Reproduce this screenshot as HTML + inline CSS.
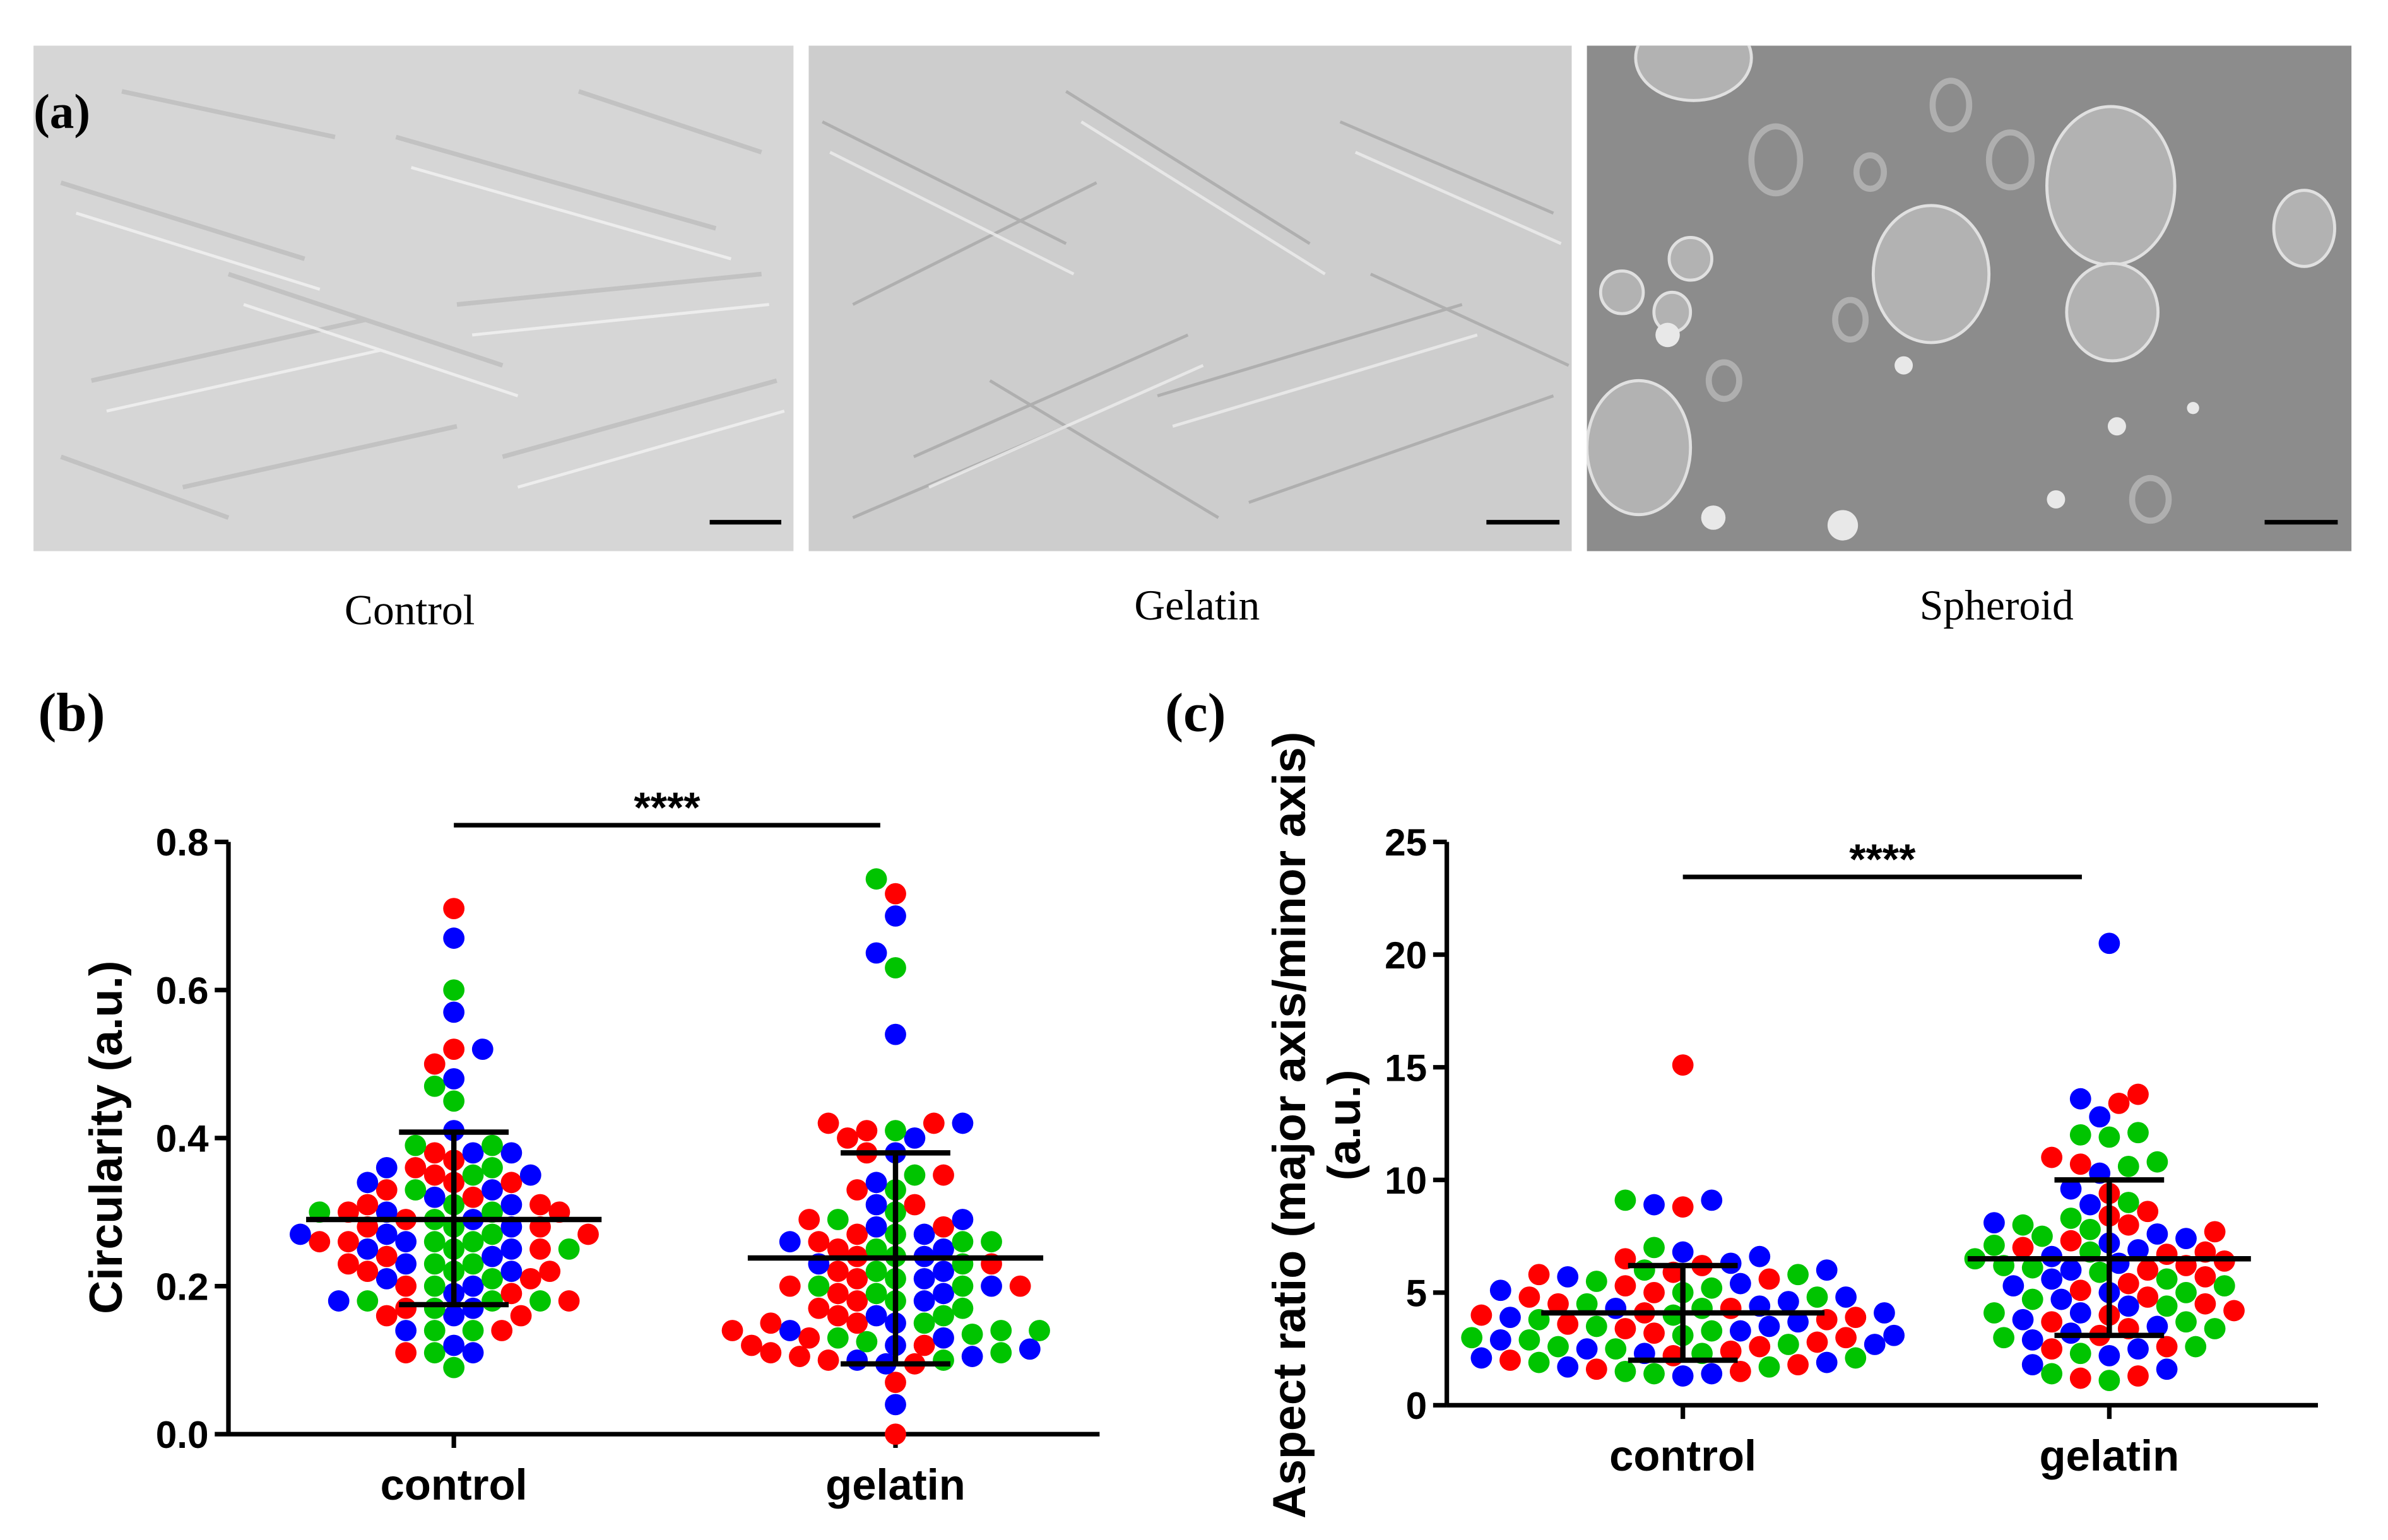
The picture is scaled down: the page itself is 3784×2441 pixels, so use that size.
<!DOCTYPE html>
<html><head><meta charset="utf-8"><style>
html,body{margin:0;padding:0;background:#fff;}
svg{display:block;}
.serif{font-family:"Liberation Serif",serif;}
.sans{font-family:"Liberation Sans",sans-serif;font-weight:bold;}
</style></head><body>
<svg id="fig" width="3784" height="2441" viewBox="0 0 1568 1011.5" xmlns="http://www.w3.org/2000/svg">
<defs><clipPath id="spClip"><rect x="1042" y="30" width="502" height="332"/></clipPath></defs>
<rect width="1568" height="1011.5" fill="#fff"/>
<g>
  <rect x="22" y="30" width="499" height="332" fill="#d6d6d6"/>
  <g stroke="#bdbdbd" stroke-width="3" fill="none" opacity="0.8">
    <path d="M40 120 L200 170 M60 250 L240 210 M120 320 L300 280 M260 90 L470 150 M300 200 L500 180 M330 300 L510 250 M80 60 L220 90 M380 60 L500 100 M150 180 L330 240 M40 300 L150 340"/>
  </g>
  <g stroke="#f2f2f2" stroke-width="2" fill="none" opacity="0.8">
    <path d="M50 140 L210 190 M70 270 L250 230 M270 110 L480 170 M310 220 L505 200 M340 320 L515 270 M160 200 L340 260"/>
  </g>
  <rect x="531" y="30" width="501" height="332" fill="#cdcdcd"/>
  <g stroke="#a8a8a8" stroke-width="2" fill="none" opacity="0.8">
    <path d="M540 80 L700 160 M560 200 L720 120 M600 300 L780 220 M700 60 L860 160 M760 260 L960 200 M820 330 L1020 260 M880 80 L1020 140 M650 250 L800 340 M900 180 L1030 240 M560 340 L700 280"/>
  </g>
  <g stroke="#ededed" stroke-width="2" fill="none" opacity="0.8">
    <path d="M545 100 L705 180 M610 320 L790 240 M710 80 L870 180 M770 280 L970 220 M890 100 L1025 160"/>
  </g>
  <rect x="1042" y="30" width="502" height="332" fill="#8c8c8c"/>
  <g clip-path="url(#spClip)">
  <g fill="#b2b2b2" stroke="#e0e0e0" stroke-width="2">
    <ellipse cx="1112" cy="38" rx="38" ry="28"/>
    <ellipse cx="1268" cy="180" rx="38" ry="45"/>
    <ellipse cx="1386" cy="122" rx="42" ry="52"/>
    <ellipse cx="1387" cy="205" rx="30" ry="32"/>
    <ellipse cx="1513" cy="150" rx="20" ry="25"/>
    <ellipse cx="1076" cy="294" rx="34" ry="44"/>
    <ellipse cx="1065" cy="192" rx="14" ry="14"/>
    <ellipse cx="1098" cy="205" rx="12" ry="13"/>
    <ellipse cx="1110" cy="170" rx="14" ry="14"/>
  </g>
  <g fill="none" stroke="#b8b8b8" stroke-width="4" opacity="0.8">
    <ellipse cx="1281" cy="69" rx="12" ry="16"/><ellipse cx="1166" cy="105" rx="16" ry="22"/>
    <ellipse cx="1228" cy="113" rx="9" ry="11"/><ellipse cx="1320" cy="105" rx="14" ry="18"/>
    <ellipse cx="1215" cy="210" rx="10" ry="13"/><ellipse cx="1132" cy="250" rx="10" ry="12"/>
    <ellipse cx="1412" cy="328" rx="12" ry="14"/>
  </g>
  <g fill="#e8e8e8"><circle cx="1250" cy="240" r="6"/><circle cx="1390" cy="280" r="6"/><circle cx="1440" cy="268" r="4"/><circle cx="1350" cy="328" r="6"/><circle cx="1210" cy="345" r="10"/><circle cx="1125" cy="340" r="8"/><circle cx="1095" cy="220" r="8"/></g>
  </g>
  <g stroke="#000" stroke-width="3">
    <line x1="466" y1="343" x2="513" y2="343"/>
    <line x1="976" y1="343" x2="1024" y2="343"/>
    <line x1="1487" y1="343" x2="1535" y2="343"/>
  </g>
  <text class="serif" x="22" y="84" font-size="32" font-weight="bold">(a)</text>
  <text class="serif" x="269" y="410" font-size="28" text-anchor="middle">Control</text>
  <text class="serif" x="786" y="407" font-size="28" text-anchor="middle">Gelatin</text>
  <text class="serif" x="1311" y="407" font-size="28" text-anchor="middle">Spheroid</text>
</g>
<text class="serif" x="25" y="480" font-size="36" font-weight="bold">(b)</text>
<text class="serif" x="765" y="480" font-size="36" font-weight="bold">(c)</text>
<g id="chartB"></g>
<g id="chartC"></g>
</svg>
<script>
const categories = ["control", "gelatin"];
const circTicks = ["0.0","0.2","0.4","0.6","0.8"];
const circTickValues = [0, 0.2, 0.4, 0.6, 0.8];
const circControlRed = [0.71,0.52,0.50,0.38,0.37,0.36,0.35,0.34,0.34,0.33,0.32,0.31,0.30,0.30,0.29,0.28,0.27,0.26,0.26,0.25,0.24,0.23,0.22,0.21,0.20,0.19,0.18,0.17,0.16,0.16,0.11,0.14,0.31,0.28,0.22];
const circControlBlue = [0.67,0.57,0.52,0.48,0.41,0.38,0.38,0.36,0.35,0.33,0.32,0.31,0.30,0.29,0.28,0.27,0.26,0.25,0.25,0.24,0.23,0.22,0.21,0.20,0.19,0.18,0.17,0.16,0.14,0.12,0.11,0.34,0.27];
const circControlGreen = [0.60,0.47,0.45,0.39,0.39,0.36,0.35,0.33,0.31,0.30,0.29,0.28,0.27,0.26,0.26,0.25,0.23,0.23,0.22,0.21,0.20,0.18,0.18,0.18,0.17,0.14,0.14,0.11,0.09,0.30,0.25];
const circGelatinRed = [0.73,0.42,0.42,0.41,0.40,0.38,0.35,0.33,0.31,0.29,0.28,0.27,0.26,0.25,0.24,0.22,0.21,0.20,0.20,0.19,0.17,0.16,0.15,0.15,0.14,0.13,0.12,0.11,0.12,0.105,0.10,0.095,0.07,0.00,0.18,0.23];
const circGelatinBlue = [0.70,0.65,0.54,0.42,0.40,0.38,0.34,0.31,0.29,0.28,0.27,0.25,0.24,0.23,0.22,0.21,0.20,0.19,0.18,0.16,0.15,0.14,0.13,0.12,0.115,0.105,0.10,0.095,0.04,0.26];
const circGelatinGreen = [0.75,0.63,0.41,0.35,0.33,0.30,0.29,0.27,0.26,0.25,0.24,0.23,0.22,0.21,0.20,0.20,0.19,0.18,0.17,0.16,0.15,0.14,0.14,0.13,0.125,0.11,0.135,0.10,0.26];
const circMean = [0.29, 0.238];
const circSdLow = [0.175, 0.095];
const circSdHigh = [0.408, 0.38];
const arTicks = ["0","5","10","15","20","25"];
const arTickValues = [0,5,10,15,20,25];
const arControlRed = [15.1,8.8,6.5,6.2,5.8,5.6,5.3,5.0,4.8,4.5,4.3,4.1,4.0,3.8,3.6,3.4,3.2,3.0,2.8,2.6,2.4,2.2,2.0,1.8,1.6,1.5,5.9,3.9];
const arControlBlue = [9.1,8.9,6.8,6.6,6.3,6.0,5.7,5.4,5.1,4.8,4.6,4.3,4.1,3.9,3.7,3.5,3.3,3.1,2.9,2.7,2.5,2.3,2.1,1.9,1.7,1.4,1.3,4.4];
const arControlGreen = [9.1,7.0,6.0,5.8,5.5,5.2,5.0,4.8,4.5,4.3,4.0,3.8,3.5,3.3,3.1,2.9,2.7,2.5,2.3,2.1,1.9,1.7,1.5,1.4,2.6,3.0];
const arGelatinRed = [13.8,13.4,11.0,10.7,9.4,8.4,8.0,7.7,7.3,7.0,6.7,6.4,6.2,6.0,5.7,5.4,5.1,4.8,4.5,4.2,4.0,3.7,3.4,3.1,2.6,2.5,1.3,1.2,6.8,8.6];
const arGelatinBlue = [20.5,13.6,12.8,10.3,9.6,8.9,8.1,7.6,7.2,6.9,6.6,6.3,6.0,5.6,5.3,5.0,4.7,4.4,4.1,3.8,3.5,3.2,2.9,2.5,2.2,1.8,1.6,7.4];
const arGelatinGreen = [12.1,12.0,11.9,10.8,10.6,9.0,8.3,8.0,7.8,7.5,7.1,6.8,6.5,6.2,5.9,5.6,5.3,5.0,4.7,4.4,4.1,3.7,3.4,3.0,2.6,2.3,1.4,1.1,6.1];
const arMean = [4.1, 6.5];
const arSdLow = [2.0, 3.1];
const arSdHigh = [6.2, 10.0];

const NS = "http://www.w3.org/2000/svg";
const COLORS = {red:"#ff0000", blue:"#0000ff", green:"#00c400"};
function mk(parent, tag, attrs) {
  const e = document.createElementNS(NS, tag);
  for (const k in attrs) e.setAttribute(k, attrs[k]);
  parent.appendChild(e);
  return e;
}
function swarm(points, cx, yFn, r) {
  const placed = [];
  const sorted = points.slice().sort((a,b)=>a.v-b.v);
  const step = r * 0.9;
  for (const p of sorted) {
    const y = yFn(p.v);
    let best = cx;
    for (let k = 0; k < 200; k++) {
      const off = (k % 2 === 0 ? 1 : -1) * Math.ceil(k/2) * step;
      const x = cx + off;
      let ok = true;
      for (const q of placed) {
        const dx = q.x - x, dy = q.y - y;
        if (dx*dx + dy*dy < (2*r)*(2*r)*0.92) { ok = false; break; }
      }
      if (ok) { best = x; break; }
    }
    placed.push({x: best, y: y, c: p.c});
  }
  return placed;
}
function interleave(red, blue, green) {
  const out = [];
  const n = Math.max(red.length, blue.length, green.length);
  for (let i = 0; i < n; i++) {
    if (i < blue.length) out.push({v: blue[i], c: "blue"});
    if (i < red.length) out.push({v: red[i], c: "red"});
    if (i < green.length) out.push({v: green[i], c: "green"});
  }
  return out;
}
function drawChart(g, cfg) {
  const yS = v => cfg.y0 - (v - cfg.vmin) / (cfg.vmax - cfg.vmin) * (cfg.y0 - cfg.y1);
  const ya = mk(g, "line", {x1: cfg.ax, y1: cfg.y1, x2: cfg.ax, y2: cfg.y0, stroke: "#000", "stroke-width": 3});
  
  
  const xa = mk(g, "line", {x1: cfg.ax, y1: cfg.y0, x2: cfg.axEnd, y2: cfg.y0, stroke: "#000", "stroke-width": 3});
  
  
  cfg.tickValues.forEach((tv, i) => {
    const y = yS(tv);
    const t = mk(g, "line", {x1: cfg.ax - 9, y1: y, x2: cfg.ax, y2: y, stroke: "#000", "stroke-width": 3});
    
    
    const lbl = mk(g, "text", {x: cfg.ax - 13, y: y + 9, "font-size": 25, "text-anchor": "end", class: "sans"});
    lbl.textContent = cfg.ticks[i];
    
    
  });
  cfg.cx.forEach((x, i) => {
    const t = mk(g, "line", {x1: x, y1: cfg.y0, x2: x, y2: cfg.y0 + 9, stroke: "#000", "stroke-width": 3});
    
    
    const lbl = mk(g, "text", {x: x, y: cfg.y0 + 43, "font-size": 28.5, "text-anchor": "middle", class: "sans"});
    lbl.textContent = categories[i];
    
    
  });
  cfg.titleLines.forEach((tl) => {
    const t = mk(g, "text", {x: 0, y: 0, "font-size": 30.5, "text-anchor": "middle", class: "sans",
      transform: "translate(" + tl.x + "," + cfg.titleY + ") rotate(-90)"});
    t.textContent = tl.text;
    
    
  });
  cfg.groups.forEach((grp, gi) => {
    const pts = swarm(interleave(grp.red, grp.blue, grp.green), cfg.cx[gi], yS, 7);
    pts.forEach(p => {
      const c = mk(g, "circle", {cx: p.x, cy: p.y, r: 7, fill: COLORS[p.c]});
      
      
    });
  });
  cfg.cx.forEach((x, i) => {
    const m = mk(g, "line", {x1: x - cfg.meanHalf, y1: yS(cfg.mean[i]), x2: x + cfg.meanHalf, y2: yS(cfg.mean[i]), stroke: "#000", "stroke-width": 3.5});
    
    
    const v = mk(g, "line", {x1: x, y1: yS(cfg.sdLow[i]), x2: x, y2: yS(cfg.sdHigh[i]), stroke: "#000", "stroke-width": 3.5});
    
    
    [cfg.sdLow[i], cfg.sdHigh[i]].forEach(val => {
      const cap = mk(g, "line", {x1: x - 36, y1: yS(val), x2: x + 36, y2: yS(val), stroke: "#000", "stroke-width": 3.5});
      
      
    });
  });
  const sb = mk(g, "line", {x1: cfg.sig[0], y1: cfg.sigY, x2: cfg.sig[1], y2: cfg.sigY, stroke: "#000", "stroke-width": 3});
  
  
  const st = mk(g, "text", {x: (cfg.sig[0] + cfg.sig[1]) / 2, y: cfg.sigY - 2, "font-size": 28, "text-anchor": "middle", class: "sans"});
  st.textContent = "****";
  
  
}
drawChart(document.getElementById("chartB"), {
  ax: 150, axEnd: 722, y0: 942, y1: 553, vmin: 0, vmax: 0.8,
  ticks: circTicks, tickValues: circTickValues, cx: [298, 588],
  titleLines: [{x: 80, text: "Circularity (a.u.)"}], titleY: 747,
  groups: [{red: circControlRed, blue: circControlBlue, green: circControlGreen},
           {red: circGelatinRed, blue: circGelatinBlue, green: circGelatinGreen}],
  mean: circMean, sdLow: circSdLow, sdHigh: circSdHigh, meanHalf: 97,
  sig: [298, 578], sigY: 542
});
drawChart(document.getElementById("chartC"), {
  ax: 950, axEnd: 1522, y0: 923, y1: 553, vmin: 0, vmax: 25,
  ticks: arTicks, tickValues: arTickValues, cx: [1105, 1385],
  titleLines: [{x: 857, text: "Aspect ratio (major axis/minor axis)"}, {x: 893, text: "(a.u.)"}], titleY: 739,
  groups: [{red: arControlRed, blue: arControlBlue, green: arControlGreen},
           {red: arGelatinRed, blue: arGelatinBlue, green: arGelatinGreen}],
  mean: arMean, sdLow: arSdLow, sdHigh: arSdHigh, meanHalf: 93,
  sig: [1105, 1367], sigY: 576
});
</script>
</body></html>
